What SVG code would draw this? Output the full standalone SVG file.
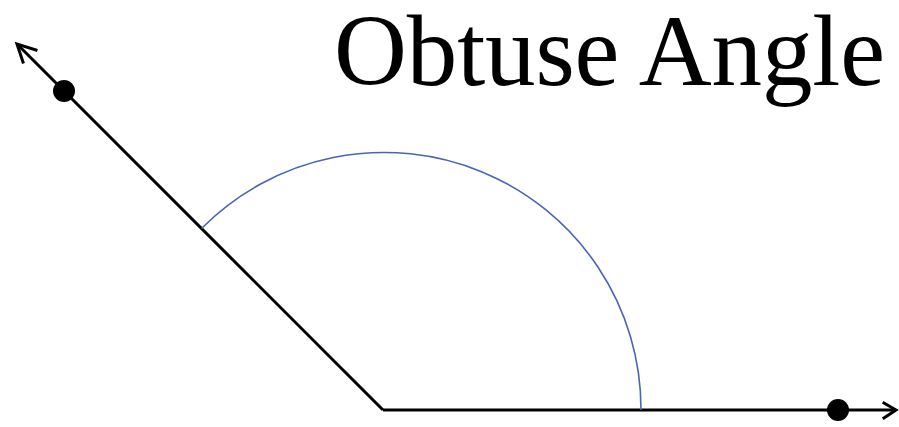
<svg xmlns="http://www.w3.org/2000/svg" width="899" height="427" viewBox="0 0 899 427">
<style>
.ray{stroke:#000;stroke-width:3;fill:none}
.head{stroke:#000;stroke-width:3;fill:none;stroke-linecap:square}
.arc{stroke:#4a64b8;stroke-width:1.6;fill:none}
.dot{fill:#000}
.title{font-family:"Liberation Serif","Times New Roman",serif;font-size:101px;fill:#000}
</style>
<rect width="899" height="427" fill="#fff"/>
<g id="connectors">
<path class="ray" d="M383,410 L17,44"/>
<path class="ray" d="M383,410 L896,410"/>
<path class="head" d="M36,50 L17,44 L23,62"/>
<path class="head" d="M884,403 L896,410 L884,418"/>
</g>
<g id="arc">
<path class="arc" d="M201.5,228.5 A257,257 0 0 1 641,410"/>
</g>
<g id="point-left"><circle class="dot" cx="64" cy="91" r="11"/></g>
<g id="point-right"><circle class="dot" cx="838" cy="410" r="11"/></g>
<g id="title"><text class="title" x="334" y="85" textLength="551" lengthAdjust="spacing">Obtuse Angle</text></g>
</svg>
